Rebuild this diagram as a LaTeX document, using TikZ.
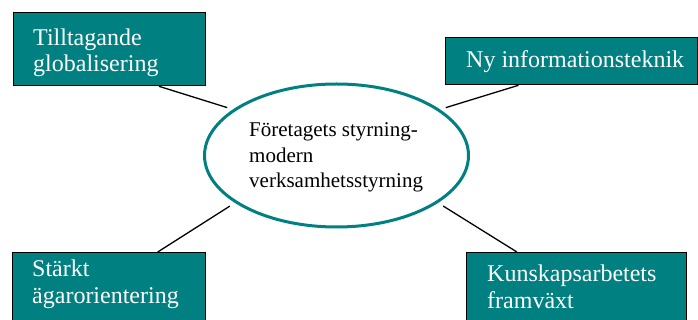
\documentclass[tikz,border=0pt]{standalone}
\usepackage{fontspec}
\setmainfont{Liberation Serif}
\usetikzlibrary{shapes.geometric,calc}
\definecolor{teal}{RGB}{0,128,128}
\begin{document}
\begin{tikzpicture}[x=1pt,y=-1pt,
  factorbox/.style={draw=black, line width=1.3pt, fill=teal, rectangle,
    inner sep=0pt, anchor=north west},
  % text nodes are placed by the baseline of their last line
  boxtext/.style={text=white, font=\fontsize{24}{26.5}\selectfont,
    align=left, inner sep=0pt, anchor=base west},
  link/.style={draw=black, line width=1.3pt, shorten >=6pt},
  hub/.style={ellipse, draw=teal, line width=3pt, fill=white,
    minimum width=264pt, minimum height=143pt, inner sep=0pt}]
  \useasboundingbox (0,0) rectangle (698,320);
  \clip (0,0) rectangle (698,320);

  % central ellipse
  \node[hub] (hub) at (336.5,155.5) {};
  \node[inner sep=0pt, anchor=base west, align=left,
    font=\fontsize{21}{25.5}\selectfont] (hubtext) at (249,188)
    {Företagets styrning-\\modern\\verksamhetsstyrning};

  % surrounding factors
  \node[factorbox, minimum width=192pt, minimum height=73pt] (b1) at (13,12) {};
  \node[boxtext] (t1) at (33,72) {Tilltagande\\globalisering};

  \node[factorbox, minimum width=252pt, minimum height=47pt] (b2) at (445,37) {};
  \node[boxtext] (t2) at (466,68) {Ny informationsteknik};

  \node[factorbox, minimum width=193pt, minimum height=90pt] (b3) at (12,252) {};
  \node[boxtext] (t3) at (32,303) {Stärkt\\ägarorientering};

  \node[factorbox, minimum width=220pt, minimum height=90pt] (b4) at (466,252) {};
  \node[boxtext] (t4) at (487,308) {Kunskapsarbetets\\framväxt};

  % connectors
  \coordinate (c1) at ($(b1.south west)!0.755!(b1.south east)$);
  \coordinate (c2) at ($(b2.south west)!0.29!(b2.south east)$);
  \coordinate (c3) at ($(b3.north west)!0.75!(b3.north east)$);
  \coordinate (c4) at ($(b4.north west)!0.23!(b4.north east)$);
  \draw[link] (c1) -- (hub.156);
  \draw[link] (c2) -- (hub.24);
  \draw[link] (c3) -- (hub.205);
  \draw[link] (c4) -- (hub.335);
\end{tikzpicture}
\end{document}
